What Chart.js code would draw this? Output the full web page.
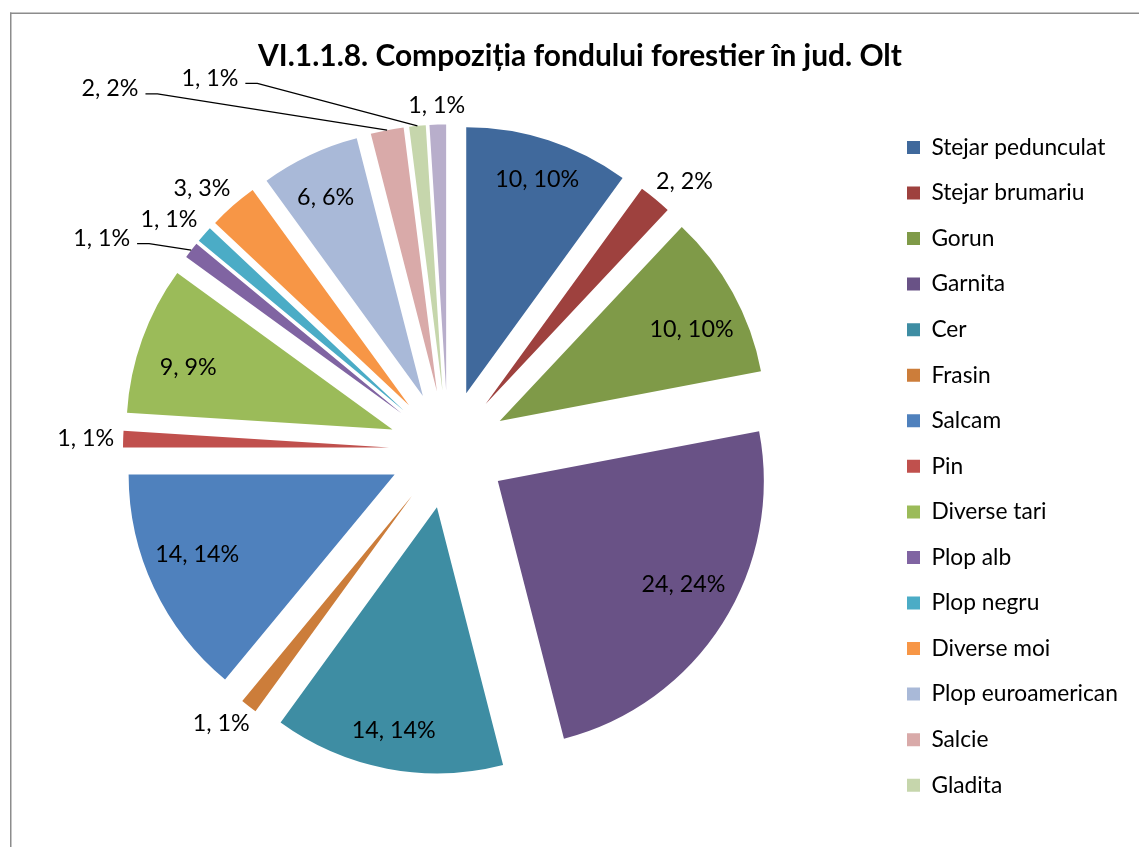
<!DOCTYPE html>
<html>
<head>
<meta charset="utf-8">
<script src="https://cdn.jsdelivr.net/npm/chart.js@4/dist/chart.umd.min.js"></script>
<style>
html,body{margin:0;padding:0;background:#fff;}
canvas{display:block;}
</style>
</head>
<body>
<canvas id="c" width="1139" height="847"></canvas>
<script>
// ---- data ----
const titleText = 'VI.1.1.8. Compoziția fondului forestier în jud. Olt';
const categories = ['Stejar pedunculat','Stejar brumariu','Gorun','Garnita','Cer','Frasin','Salcam','Pin','Diverse tari','Plop alb','Plop negru','Diverse moi','Plop euroamerican','Salcie','Gladita',''];
const values = [10, 2, 10, 24, 14, 1, 14, 1, 9, 1, 1, 3, 6, 2, 1, 1];
const colors = ['#40699C','#9E413E','#7F9A48','#695286','#3E8DA3','#CC7D3A','#4F81BD','#C0504D','#9BBB59','#8064A2','#4BACC6','#F79646','#A9B9D8','#D9AAA9','#C6D6AC','#B8AECB'];

// ---- layout / style constants ----
const W = 1139, H = 847;
const FONT = 'Lato';
const CX = 448, CY = 449.4, RADIUS = 266, EXPLODE = 59;
const OUT_GAP = 9;
// manual label moves (dx, dy) for labels dragged away with leader lines
const labelShift = {9: [-54, 2], 13: [-270, -22], 14: [-204, -28]};

function fitSize(text, target, weight) {
  const c = document.createElement('canvas').getContext('2d');
  c.font = weight + ' 100px ' + FONT;
  return 100 * target / c.measureText(text).width;
}
function textW(text, size, weight) {
  const c = document.createElement('canvas').getContext('2d');
  c.font = weight + ' ' + size + 'px ' + FONT;
  return c.measureText(text).width;
}

const LEG_FONT = fitSize('Stejar pedunculat', 174, 'normal');
const LABEL_FONT = fitSize('10, 10%', 84, 'normal');
const TITLE_FONT = fitSize(titleText, 644, 'bold');
const LEG_BOX = 13;
const LEG_ITEM_H = Math.max(LEG_FONT, LEG_BOX);
const LEG_PAD = 45.56 - LEG_ITEM_H;
const shownCount = 15;
let maxText = 0;
categories.slice(0, shownCount).forEach(t => { maxText = Math.max(maxText, textW(t, LEG_FONT, 'normal')); });
const maxItemW = LEG_BOX + LEG_FONT / 2 + maxText;
const LEG_BOX_X = 917;
const PAD_R = W - LEG_BOX_X - maxItemW;
const PAD_L = PAD_R + 2 * (580 - W / 2);
const LEG_TOP = 147.4 - LEG_PAD - LEG_ITEM_H / 2;
const TITLE_LH = TITLE_FONT * 1.2;
const TITLE_CY = 56;

// exploded slices: translate each arc along its mid angle
const ArcEl = Chart.ArcElement || Chart.registry.getElement('arc');
const origDraw = ArcEl.prototype.draw;
ArcEl.prototype.draw = function(ctx) {
  const mid = (this.startAngle + this.endAngle) / 2;
  ctx.save();
  ctx.translate(Math.cos(mid) * EXPLODE, Math.sin(mid) * EXPLODE);
  origDraw.call(this, ctx);
  ctx.restore();
};

const framePlugin = {
  id: 'frame',
  beforeDraw(chart) {
    const ctx = chart.ctx;
    ctx.save();
    ctx.fillStyle = '#fff';
    ctx.fillRect(0, 0, W, H);
    ctx.fillStyle = '#8c8c8c';
    ctx.fillRect(10, 12.5, 1.5, H);
    ctx.fillRect(10, 12.5, W, 1.5);
    ctx.restore();
  }
};

const areaPlugin = {
  id: 'area',
  afterLayout(chart) {
    const s = RADIUS + EXPLODE + 4;
    chart.chartArea = {left: CX - s, top: CY - s, right: CX + s, bottom: CY + s, width: 2 * s, height: 2 * s};
  }
};

const labelPlugin = {
  id: 'pieLabels',
  afterDatasetsDraw(chart) {
    const ctx = chart.ctx;
    const meta = chart.getDatasetMeta(0);
    const total = values.reduce((a, b) => a + b, 0);
    ctx.save();
    ctx.font = LABEL_FONT + 'px ' + FONT;
    ctx.fillStyle = '#000';
    ctx.strokeStyle = '#000';
    ctx.lineWidth = 1.3;
    ctx.textAlign = 'center';
    ctx.textBaseline = 'middle';
    meta.data.forEach((arc, i) => {
      const p = arc.getProps(['x', 'y', 'startAngle', 'endAngle', 'outerRadius'], true);
      const mid = (p.startAngle + p.endAngle) / 2;
      const ux = Math.cos(mid), uy = Math.sin(mid);
      const sx = p.x + ux * EXPLODE, sy = p.y + uy * EXPLODE;
      const pct = Math.round(values[i] / total * 100);
      const text = values[i] + ', ' + pct + '%';
      const w = ctx.measureText(text).width, h = LABEL_FONT * 0.9;
      let lx, ly;
      if (pct >= 5) {
        // best-fit inside: label kept inside the wedge, flattened toward the horizontal
        const fx = p.outerRadius * (0.809 + 0.061 * uy * uy);
        const fy = p.outerRadius * (0.862 - 0.194 * ux * ux);
        lx = sx + ux * fx;
        ly = sy + uy * fy;
      } else {
        const ax = sx + ux * (p.outerRadius + OUT_GAP), ay = sy + uy * (p.outerRadius + OUT_GAP);
        const m = Math.max(Math.abs(ux), Math.abs(uy));
        lx = ax + ux / m * w / 2;
        ly = ay + uy / m * h / 2;
        const sh = labelShift[i];
        if (sh) {
          lx += sh[0]; ly += sh[1];
          const tx = sx + ux * p.outerRadius, ty = sy + uy * p.outerRadius;
          ctx.beginPath();
          ctx.moveTo(lx + w / 2 + 7, ly + 5);
          ctx.lineTo(lx + w / 2 + 19, ly + 5);
          ctx.lineTo(tx, ty);
          ctx.stroke();
        }
      }
      ctx.fillText(text, lx, ly);
    });
    ctx.restore();
  }
};

Chart.defaults.font.family = FONT;
Chart.defaults.color = '#000';

new Chart(document.getElementById('c'), {
  type: 'pie',
  data: {
    labels: categories,
    datasets: [{
      data: values,
      backgroundColor: colors,
      borderWidth: 0,
      radius: RADIUS,
      clip: false
    }]
  },
  options: {
    responsive: false,
    devicePixelRatio: 1,
    animation: false,
    layout: {padding: {left: PAD_L, right: PAD_R, top: 0, bottom: 0}},
    plugins: {
      tooltip: {enabled: false},
      title: {
        display: true,
        text: titleText,
        color: '#000',
        font: {size: TITLE_FONT, weight: 'bold', family: FONT, lineHeight: 1.2},
        padding: {top: TITLE_CY - TITLE_LH / 2, bottom: LEG_TOP - TITLE_CY - TITLE_LH / 2}
      },
      legend: {
        position: 'right',
        align: 'start',
        fullSize: false,
        labels: {
          boxWidth: LEG_BOX,
          boxHeight: LEG_BOX,
          padding: LEG_PAD,
          color: '#000',
          font: {size: LEG_FONT, family: FONT},
          filter: (item) => item.text !== '' && item.index < shownCount
        }
      }
    }
  },
  plugins: [framePlugin, areaPlugin, labelPlugin]
});
</script>
</body>
</html>
